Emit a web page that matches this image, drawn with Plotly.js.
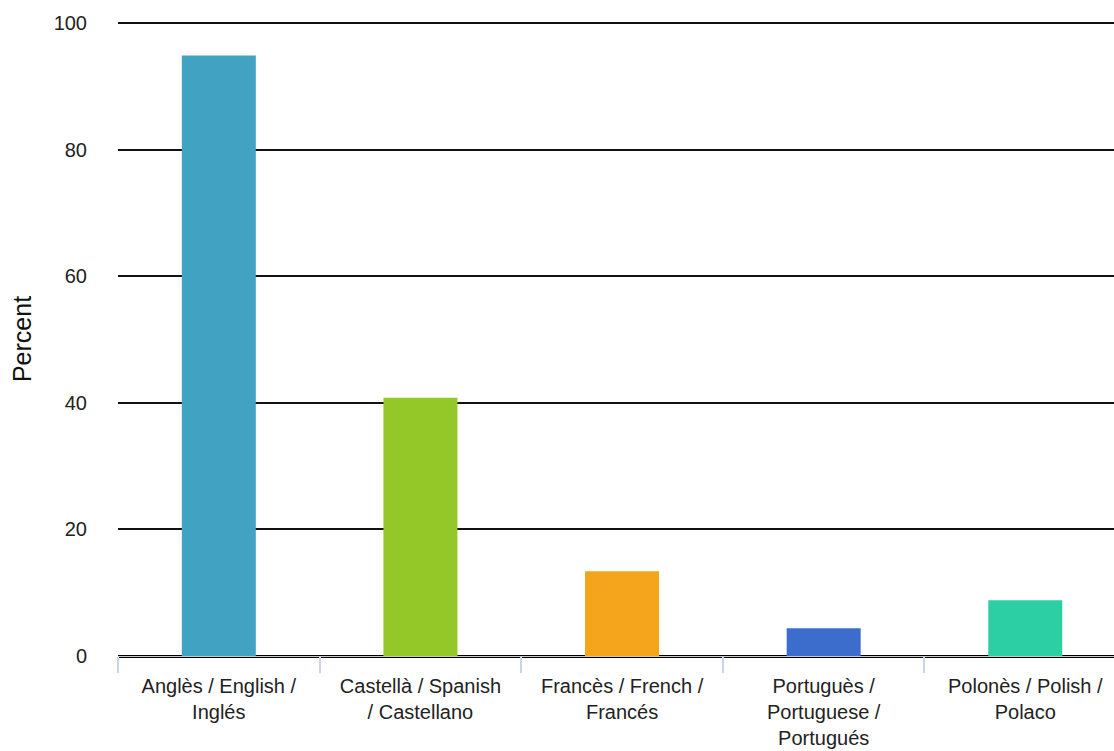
<!DOCTYPE html>
<html>
<head>
<meta charset="utf-8">
<script src="https://cdn.plot.ly/plotly-3.0.1.min.js"></script>
<style>html,body{margin:0;padding:0;background:#fff;overflow:hidden;}</style>
</head>
<body>
<div id="chart" style="width:1114px;height:751px;"></div>
<script>
const categories = [
  "Anglès / English /<br>Inglés",
  "Castellà / Spanish<br>/ Castellano",
  "Francès / French /<br>Francés",
  "Portuguès /<br>Portuguese /<br>Portugués",
  "Polonès / Polish /<br>Polaco"
];
const percentValues = [94.9, 40.8, 13.4, 4.4, 8.8];
const barColors = ["#41A2C2", "#94C728", "#F5A51B", "#3D6DCC", "#2CCFA3"];
const yTicks = [0, 20, 40, 60, 80, 100];

const trace = {
  type: "bar",
  x: categories,
  y: percentValues,
  marker: {color: barColors},
  hoverinfo: "x+y"
};

const layout = {
  width: 1114,
  height: 751,
  margin: {l: 118, r: 0, t: 22, b: 95},
  paper_bgcolor: "#fff",
  plot_bgcolor: "#fff",
  font: {family: "Liberation Sans, Arial, sans-serif", color: "#222", size: 20},
  bargap: 0.633,
  showlegend: false,
  xaxis: {
    type: "category",
    range: [-0.5, 4.44],
    tickson: "boundaries",
    ticks: "outside",
    ticklen: 16,
    tickcolor: "#c9d5ea",
    tickwidth: 2,
    showline: true,
    linecolor: "#c8c8c8",
    linewidth: 1,
    showgrid: false,
    ticklabelstandoff: 12,
    tickfont: {size: 20, color: "#222"},
    fixedrange: true
  },
  yaxis: {
    range: [0, 100.2],
    tickvals: yTicks,
    ticktext: yTicks.map(String),
    showgrid: true,
    gridcolor: "#111",
    gridwidth: 2,
    zeroline: true,
    zerolinecolor: "#000",
    zerolinewidth: 3,
    showline: false,
    ticks: "",
    ticklabelstandoff: 30,
    tickfont: {size: 20, color: "#222"},
    title: {text: "Percent", font: {size: 25, color: "#111"}, standoff: 14},
    fixedrange: true
  }
};

Plotly.newPlot("chart", [trace], layout, {displayModeBar: false, staticPlot: true});
</script>
</body>
</html>
